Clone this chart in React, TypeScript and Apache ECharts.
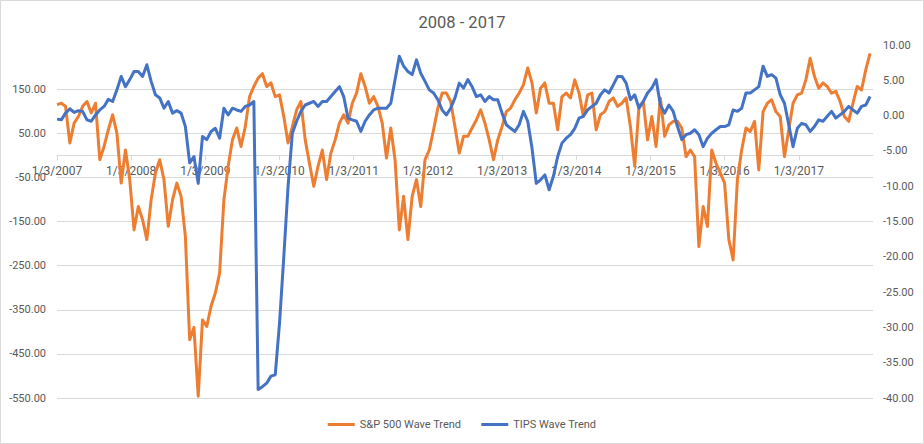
import { useEffect, useRef } from 'react'
import * as echarts from 'echarts'

// readings taken roughly every three weeks from 1/3/2007
const START_YEAR = 2007
const STEP_DAYS = 21.07
const YEAR_DAYS = 365.25

const spxWave = [
  115, 118, 111, 28, 73, 88, 111, 122, 96, 118, -10, 20, 58, 92, 50, -63,
  12, -55, -169, -116, -146, -191, -101, -40, -10, -55, -161, -101, -63, -93, -184, -418,
  -390, -546, -373, -388, -342, -312, -267, -101, -25, 35, 62, 20, 65, 133, 156, 175,
  185, 156, 164, 133, 137, 88, 28, 65, 103, 122, 35, -18, -70, -25, 12,
  -55, 5, 35, 73, 92, 73, 118, 141, 185, 156, 118, 133, 111, 73, -6, 62,
  -10, -169, -93, -191, -93, -55, -116, -10, 12, 58, 107, 141, 141, 122, 65, 5,
  43, 43, 62, 80, 103, 73, 35, -10, 35, 65, 99, 107, 126, 141, 160, 198,
  164, 96, 152, 164, 118, 118, 58, 133, 141, 130, 171, 141, 88, 137, 141, 58,
  92, 99, 122, 130, 111, 118, 130, 65, -25, 111, 122, 35, 88, 20, 130, 43,
  69, 77, 77, 62, -3, 12, -3, -207, -116, -161, 12, -18, -40, -63, -191, -237,
  -55, 12, 62, 54, 77, -33, 99, 118, 126, 99, 88, -3, 58, 118, 137, 141,
  171, 220, 179, 152, 164, 156, 141, 145, 122, 88, 77, 118, 156, 148, 194, 231,
]

const tipsWave = [
  -0.5, -0.6, 0.35, 0.97, 0.45, 0.7, 0.6, -0.6, -0.8, 0.1, 0.8, 1.3, 2.3, 2.0, 3.65, 5.55,
  4.1, 5.1, 6.25, 6.25, 5.55, 7.2, 4.85, 2.95, 2.5, 1.05, 2.0, 0.35, 0.7, 0.35, -1.55, -6.7,
  -5.8, -9.6, -2.95, -3.4, -2.25, -1.8, -3.2, 1.05, 0.1, 1.05, 0.8, 0.6, 1.3, 1.5, 2.0, -38.8,
  -38.4, -37.9, -36.9, -36.7, -29.4, -20, -10, -2.5, -0.8, 0.6, 1.5, 1.75, 2.0, 1.3, 2.0,
  2.0, 2.7, 3.4, 4.1, 2.7, -0.35, -0.6, -0.8, -2.25, -0.8, 0.1, 0.8, 1.05, 1.05, 1.05, 1.75,
  5.1, 8.4, 7.0, 6.25, 5.8, 7.9, 6.0, 4.85, 3.65, 3.2, 2.25, 0.8, 0.1, 1.05, 2.5, 4.6,
  3.9, 5.1, 4.1, 2.7, 2.95, 2.0, 2.7, 2.25, 2.25, 0.35, -1.3, -1.8, -2.25, -1.3, 0.6, -0.8,
  -4.6, -9.6, -9.1, -8.4, -10.5, -8.6, -5.8, -3.9, -3.2, -2.7, -1.8, -0.35, -0.1, 0.8, 1.3, 1.75,
  2.95, 3.65, 3.2, 4.35, 5.55, 5.55, 4.6, 2.25, 2.95, 1.05, 2.0, 3.2, 3.9, 5.1, 1.5, 0.35,
  1.5, 0.6, -1.55, -3.4, -2.7, -2.5, -2.0, -2.7, -4.4, -3.2, -2.5, -2.0, -1.55, -1.55, -1.3, 0.8,
  0.6, 1.05, 3.2, 3.2, 3.65, 4.1, 7.0, 5.55, 5.8, 5.3, 2.95, 1.75, -1.3, -4.4, -1.8, -1.1,
  -1.3, -2.25, -1.55, -0.6, -0.8, -0.1, 0.6, -0.35, 0.1, 0.6, 1.3, 0.8, 0.35, 1.3, 1.5, 2.7,
]

const SERIES_NAMES = ['S&P 500 Wave Trend', 'TIPS Wave Trend']
const YEAR_COUNT = 11
const LEFT_MIN = -550
const LEFT_MAX = 250

const FONT = 'Roboto, "Open Sans", sans-serif'
const TEXT_COLOR = '#595959'
const GRID_COLOR = '#D9D9D9'

const CHART_H = 444
const GRID = { left: 57, right: 51, top: 45, bottom: 46 }
// date axis crosses the left axis at 0
const PLOT_H = CHART_H - GRID.top - GRID.bottom
const X_AXIS_OFFSET = -((0 - LEFT_MIN) / (LEFT_MAX - LEFT_MIN)) * PLOT_H

export default function App() {
  const chartRef = useRef<HTMLDivElement>(null)

  useEffect(() => {
    document.body.style.margin = '0'
    if (!chartRef.current) return
    const chart = echarts.init(chartRef.current, undefined, { renderer: 'svg' })

    const toPoints = (vals: number[]) => vals.map((v, i) => [i * STEP_DAYS, v])

    chart.setOption({
      animation: false,
      textStyle: { fontFamily: FONT },
      title: {
        text: '2008 - 2017',
        left: 'center',
        top: 9,
        textStyle: { fontFamily: FONT, fontSize: 16.5, fontWeight: 'normal', color: TEXT_COLOR },
      },
      legend: {
        data: SERIES_NAMES,
        left: 'center',
        top: 414,
        icon: 'rect',
        itemWidth: 27,
        itemHeight: 3,
        itemGap: 20,
        textStyle: { fontFamily: FONT, fontSize: 11, color: TEXT_COLOR },
      },
      grid: GRID,
      xAxis: {
        type: 'value',
        position: 'bottom',
        offset: X_AXIS_OFFSET,
        min: 0,
        max: YEAR_COUNT * YEAR_DAYS,
        interval: YEAR_DAYS,
        axisLine: {
          show: true,
          onZero: false,
          lineStyle: { color: GRID_COLOR, width: 1 },
        },
        axisTick: { show: true, length: 5, lineStyle: { color: GRID_COLOR } },
        splitLine: { show: false },
        axisLabel: {
          fontFamily: FONT,
          fontSize: 12,
          color: TEXT_COLOR,
          margin: 10,
          showMaxLabel: false,
          formatter: (v: number) => `1/3/${START_YEAR + Math.round(v / YEAR_DAYS)}`,
        },
      },
      yAxis: [
        {
          type: 'value',
          min: LEFT_MIN,
          max: LEFT_MAX,
          interval: 50,
          axisLine: { show: false, onZero: false },
          axisTick: { show: false },
          splitLine: {
            show: true,
            showMaxLine: false,
            lineStyle: { color: [GRID_COLOR, 'rgba(0,0,0,0)'], width: 1 },
          },
          axisLabel: {
            fontFamily: FONT,
            fontSize: 11,
            color: TEXT_COLOR,
            margin: 11,
            showMaxLabel: false,
            formatter: (v: number) => ((v - LEFT_MIN) % 100 === 0 ? v.toFixed(2) : ''),
          },
        },
        {
          type: 'value',
          min: -40,
          max: 10,
          interval: 5,
          axisLine: { show: false, onZero: false },
          axisTick: { show: false },
          splitLine: { show: false },
          axisLabel: {
            fontFamily: FONT,
            fontSize: 11,
            color: TEXT_COLOR,
            margin: 10,
            formatter: (v: number) => v.toFixed(2),
          },
        },
      ],
      graphic: [
        {
          type: 'rect',
          shape: { x: 0.5, y: 0.5, width: 923, height: 443 },
          style: { fill: 'none', stroke: GRID_COLOR, lineWidth: 1 },
          silent: true,
        },
      ],
      series: [
        {
          name: SERIES_NAMES[0],
          type: 'line',
          yAxisIndex: 0,
          data: toPoints(spxWave),
          symbol: 'none',
          color: '#ED7D31',
          lineStyle: { width: 3, color: '#ED7D31', join: 'round' },
        },
        {
          name: SERIES_NAMES[1],
          type: 'line',
          yAxisIndex: 1,
          data: toPoints(tipsWave),
          symbol: 'none',
          color: '#4472C4',
          lineStyle: { width: 3, color: '#4472C4', join: 'round' },
        },
      ],
    })

    return () => chart.dispose()
  }, [])

  return <div ref={chartRef} style={{ width: 924, height: CHART_H }} />
}
